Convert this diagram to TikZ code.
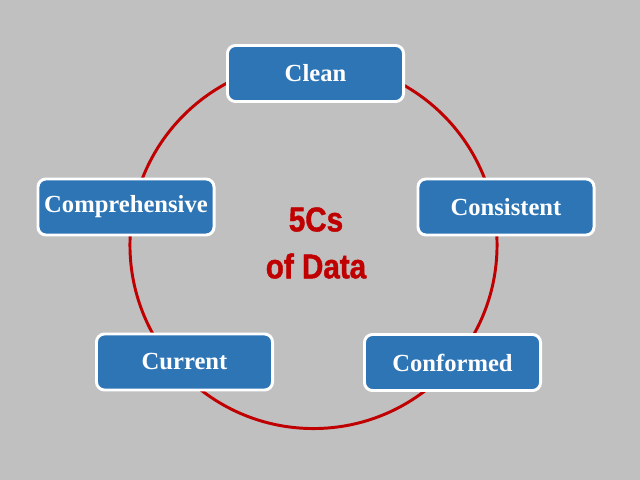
\documentclass[tikz,border=0pt]{standalone}
\usepackage{fontspec}
\setmainfont{Liberation Serif}
\newfontfamily\titlefont[FakeStretch=0.86, BoldFeatures={FakeBold=1.2}]{Liberation Sans}
\usepackage{xcolor}
\usetikzlibrary{positioning}

\definecolor{bggray}{HTML}{C0C0C0}
\definecolor{boxblue}{HTML}{2E75B6}
\definecolor{ringred}{HTML}{C00000}

\begin{document}
\begin{tikzpicture}[x=0.025cm, y=-0.025cm,
  cbox/.style={rectangle, rounded corners=0.2cm, draw=white, line width=2.1pt,
    fill=boxblue, minimum width=4.4cm, minimum height=1.4cm, text=white,
    font=\fontsize{17.5}{20}\selectfont\bfseries}]
% Background
\fill[bggray] (0,0) rectangle (640,480);
\useasboundingbox (0,0) rectangle (640,480);

% Ring
\draw[ringred, line width=2.1pt] (313.5,245) circle (4.5875cm);

% The five Cs
\node[cbox] (clean) at (315.5,73.5) {Clean};
\node[cbox] (consistent) at (506,207) {Consistent};
\node[cbox] (conformed) at (452.5,362.5) {Conformed};
\node[cbox] (current) at (184.5,362) {Current};
\node[cbox] (comprehensive) at (126,207) {Comprehensive};

% Title
\node[align=center, text=ringred, font=\titlefont\bfseries\fontsize{24.5}{33.4}\selectfont]
  (title) at (316,243) {5Cs\\of Data};
\end{tikzpicture}
\end{document}
